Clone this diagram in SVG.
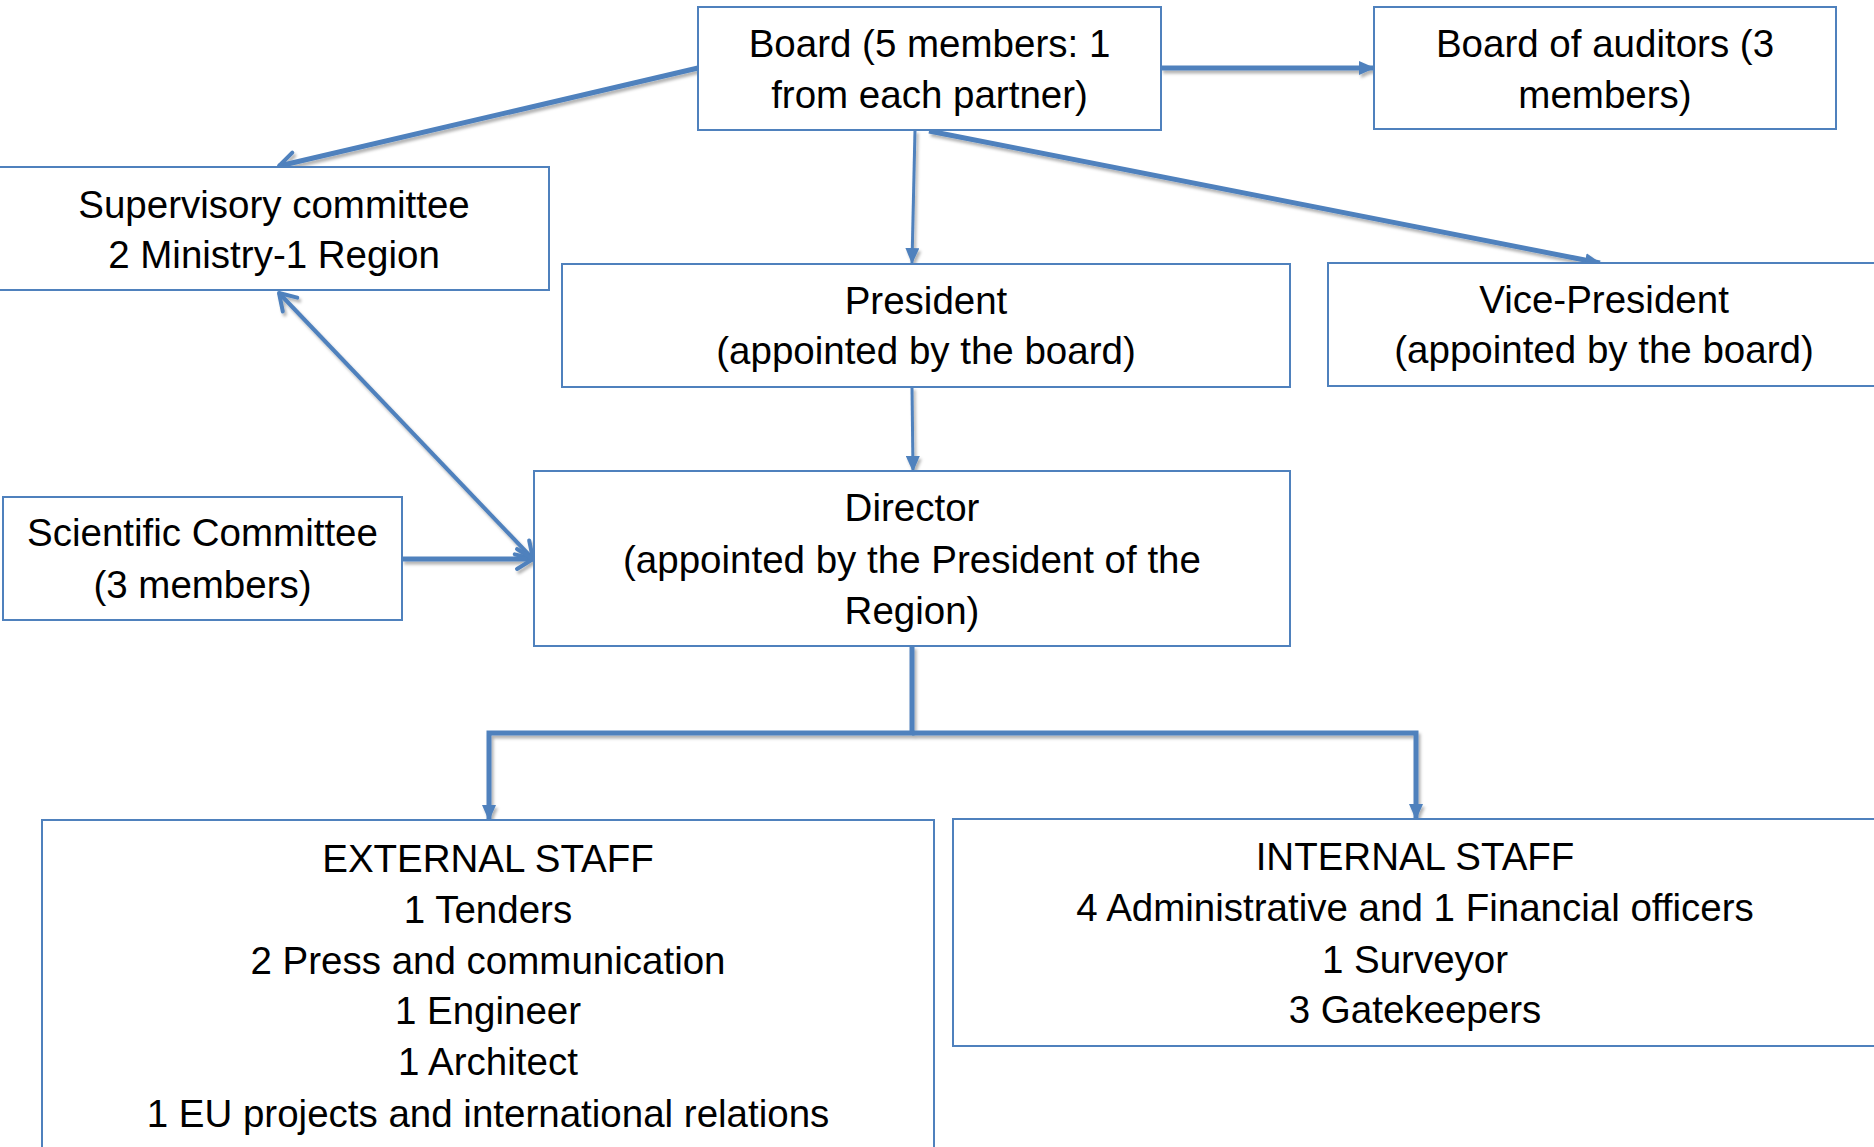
<svg xmlns="http://www.w3.org/2000/svg" width="1874" height="1147" viewBox="0 0 1874 1147">
<style>
.box{fill:#fff;stroke:#4F81BD;stroke-width:2}
.t{font-family:"Liberation Sans",Arial,sans-serif;font-size:38.5px;fill:#000;text-anchor:middle}
.c{fill:none;stroke:#4F81BD;stroke-linecap:butt}
</style>
<defs>
<filter id="sh" x="-10%" y="-10%" width="120%" height="120%">
<feDropShadow dx="2" dy="3" stdDeviation="1.5" flood-color="#000" flood-opacity="0.3"/>
</filter>
<marker id="tri" markerUnits="userSpaceOnUse" viewBox="0 0 16 14" refX="15" refY="7" markerWidth="16" markerHeight="14" orient="auto">
<path d="M0,0 L16,7 L0,14 Z" fill="#4F81BD"/>
</marker>
<marker id="vee" markerUnits="userSpaceOnUse" viewBox="0 0 20 24" refX="18" refY="12" markerWidth="20" markerHeight="24" orient="auto-start-reverse" overflow="visible">
<path d="M2,2 L18,12 L2,22" fill="none" stroke="#4F81BD" stroke-width="4" stroke-linecap="round" stroke-linejoin="round"/>
</marker>
</defs>
<rect width="1874" height="1147" fill="#fff"/>

<g id="connectors" filter="url(#sh)">
<line class="c" x1="698" y1="68" x2="279" y2="166" stroke-width="5" marker-end="url(#vee)"/>
<line class="c" x1="1161" y1="68" x2="1374" y2="68" stroke-width="5" marker-end="url(#tri)"/>
<line class="c" x1="915" y1="130" x2="912" y2="263" stroke-width="3" marker-end="url(#tri)"/>
<line class="c" x1="929" y1="131" x2="1600" y2="263" stroke-width="5" marker-end="url(#tri)"/>
<line class="c" x1="912" y1="387" x2="913" y2="471" stroke-width="3" marker-end="url(#tri)"/>
<line class="c" x1="279" y1="293" x2="533" y2="559" stroke-width="4" marker-start="url(#vee)" marker-end="url(#vee)"/>
<line class="c" x1="402" y1="559" x2="533" y2="559" stroke-width="5" marker-end="url(#vee)"/>
<polyline class="c" points="912,646 912,733 489,733 489,820" stroke-width="5" marker-end="url(#tri)"/>
<polyline class="c" points="912,733 1416,733 1416,819" stroke-width="5" marker-end="url(#tri)"/>
</g>

<g id="board">
<rect class="box" x="698" y="7" width="463" height="123"/>
<text class="t" x="929.5" y="57">Board (5 members: 1</text>
<text class="t" x="929.5" y="108">from each partner)</text>
</g>
<g id="auditors">
<rect class="box" x="1374" y="7" width="462" height="122"/>
<text class="t" x="1605" y="57">Board of auditors (3</text>
<text class="t" x="1605" y="108">members)</text>
</g>
<g id="supervisory">
<rect class="box" x="-2" y="167" width="551" height="123"/>
<text class="t" x="274" y="218">Supervisory committee</text>
<text class="t" x="274" y="268">2 Ministry-1 Region</text>
</g>
<g id="president">
<rect class="box" x="562" y="264" width="728" height="123"/>
<text class="t" x="926" y="314">President</text>
<text class="t" x="926" y="364">(appointed by the board)</text>
</g>
<g id="vicepresident">
<rect class="box" x="1328" y="263" width="552" height="123"/>
<text class="t" x="1604" y="313">Vice-President</text>
<text class="t" x="1604" y="363">(appointed by the board)</text>
</g>
<g id="scientific">
<rect class="box" x="3" y="497" width="399" height="123"/>
<text class="t" x="202.5" y="546">Scientific Committee</text>
<text class="t" x="202.5" y="598">(3 members)</text>
</g>
<g id="director">
<rect class="box" x="534" y="471" width="756" height="175"/>
<text class="t" x="912" y="521">Director</text>
<text class="t" x="912" y="573">(appointed by the President of the</text>
<text class="t" x="912" y="624">Region)</text>
</g>
<g id="external">
<rect class="box" x="42" y="820" width="892" height="340"/>
<text class="t" x="488" y="872">EXTERNAL STAFF</text>
<text class="t" x="488" y="923">1 Tenders</text>
<text class="t" x="488" y="974">2 Press and communication</text>
<text class="t" x="488" y="1024">1 Engineer</text>
<text class="t" x="488" y="1075">1 Architect</text>
<text class="t" x="488" y="1127">1 EU projects and international relations</text>
</g>
<g id="internal">
<rect class="box" x="953" y="819" width="925" height="227"/>
<text class="t" x="1415" y="870">INTERNAL STAFF</text>
<text class="t" x="1415" y="921">4 Administrative and 1 Financial officers</text>
<text class="t" x="1415" y="973">1 Surveyor</text>
<text class="t" x="1415" y="1023">3 Gatekeepers</text>
</g>
</svg>
